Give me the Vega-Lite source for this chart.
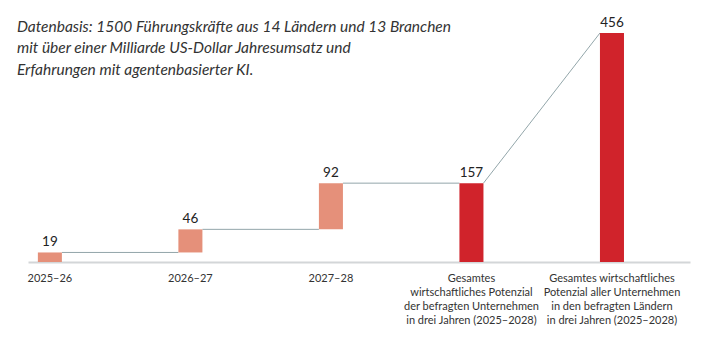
{
  "$schema": "https://vega.github.io/schema/vega-lite/v6.json",
  "autosize": {"type": "none"},
  "width": 662,
  "height": 229,
  "padding": {"left": 28, "top": 33, "right": 18, "bottom": 90},
  "background": "white",
  "title": {
    "text": ["Datenbasis: 1500 Führungskräfte aus 14 Ländern und 13 Branchen", "mit über einer Milliarde US-Dollar Jahresumsatz und", "Erfahrungen mit agentenbasierter KI."],
    "anchor": "start",
    "frame": "group",
    "orient": "top",
    "font": "Lato",
    "fontStyle": "italic",
    "fontWeight": "normal",
    "fontSize": 15.5,
    "lineHeight": 21.5,
    "color": "#333333",
    "baseline": "top",
    "offset": 0,
    "dx": -11,
    "dy": 62
  },
  "config": {"view": {"stroke": null}},
  "datasets": {
    "balken": [
      {"Kategorie": "2025–26", "von": 0, "bis": 19, "Wert": 19, "Typ": "Jahr"},
      {"Kategorie": "2026–27", "von": 19, "bis": 65, "Wert": 46, "Typ": "Jahr"},
      {"Kategorie": "2027–28", "von": 65, "bis": 157, "Wert": 92, "Typ": "Jahr"},
      {"Kategorie": "Gesamtes|wirtschaftliches Potenzial|der befragten Unternehmen|in drei Jahren (2025–2028)", "von": 0, "bis": 157, "Wert": 157, "Typ": "Gesamt"},
      {"Kategorie": "Gesamtes wirtschaftliches|Potenzial aller Unternehmen|in den befragten Ländern|in drei Jahren (2025–2028)", "von": 0, "bis": 456, "Wert": 456, "Typ": "Gesamt"}
    ],
    "verbinder": [
      {"aus": "2025–26", "nach": "2026–27", "h1": 19, "h2": 19},
      {"aus": "2026–27", "nach": "2027–28", "h1": 65, "h2": 65},
      {"aus": "2027–28", "nach": "Gesamtes|wirtschaftliches Potenzial|der befragten Unternehmen|in drei Jahren (2025–2028)", "h1": 157, "h2": 157},
      {"aus": "Gesamtes|wirtschaftliches Potenzial|der befragten Unternehmen|in drei Jahren (2025–2028)", "nach": "Gesamtes wirtschaftliches|Potenzial aller Unternehmen|in den befragten Ländern|in drei Jahren (2025–2028)", "h1": 157, "h2": 456}
    ]
  },
  "encoding": {
    "x": {
      "field": "Kategorie",
      "type": "nominal",
      "sort": null,
      "scale": {
        "domain": ["2025–26", "2026–27", "2027–28", "Gesamtes|wirtschaftliches Potenzial|der befragten Unternehmen|in drei Jahren (2025–2028)", "Gesamtes wirtschaftliches|Potenzial aller Unternehmen|in den befragten Ländern|in drei Jahren (2025–2028)"],
        "paddingInner": 0.829,
        "paddingOuter": 0.27,
        "align": 0.13
      },
      "axis": {
        "title": null,
        "labelAngle": 0,
        "ticks": false,
        "domainColor": "#D3D6D8",
        "domainWidth": 2,
        "labelFont": "Lato",
        "labelFontSize": 11,
        "labelColor": "#333333",
        "labelPadding": 10,
        "labelLineHeight": 14.3,
        "labelBaseline": "top",
        "labelExpr": "split(datum.label, '|')"
      }
    }
  },
  "layer": [
    {
      "data": {"name": "verbinder"},
      "mark": {"type": "rule", "color": "#93A6AA", "strokeWidth": 1},
      "encoding": {
        "x": {"field": "aus", "type": "nominal", "bandPosition": 1},
        "x2": {"field": "nach", "bandPosition": 0},
        "y": {"field": "h1", "type": "quantitative", "scale": {"domain": [0, 456], "nice": false}, "axis": null},
        "y2": {"field": "h2"}
      }
    },
    {
      "data": {"name": "balken"},
      "mark": {"type": "bar"},
      "encoding": {
        "y": {"field": "von", "type": "quantitative"},
        "y2": {"field": "bis"},
        "color": {"field": "Typ", "type": "nominal", "scale": {"domain": ["Jahr", "Gesamt"], "range": ["#E5907A", "#D0232B"]}, "legend": null}
      }
    },
    {
      "data": {"name": "balken"},
      "mark": {"type": "text", "baseline": "bottom", "dy": -3, "font": "Lato", "fontSize": 13.5, "color": "#222222"},
      "encoding": {
        "y": {"field": "bis", "type": "quantitative"},
        "text": {"field": "Wert", "type": "quantitative"}
      }
    }
  ]
}
